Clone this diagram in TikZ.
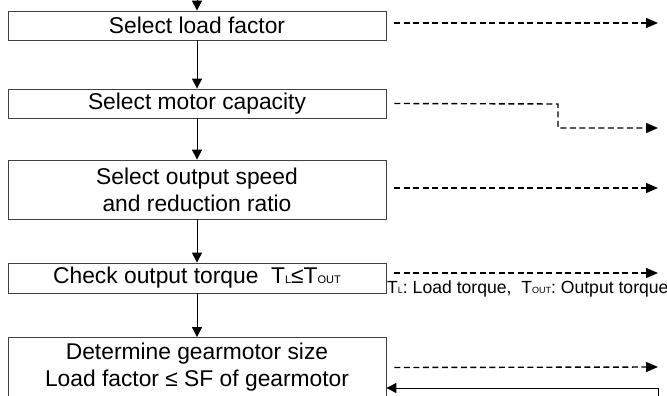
\documentclass[tikz,border=0pt]{standalone}
\usepackage{fontspec}
\setmainfont{Liberation Sans}
\usetikzlibrary{arrows.meta}
\newcommand{\sub}[1]{{\fontsize{11}{11}\selectfont #1}}
\newcommand{\subn}[1]{{\fontsize{9}{9}\selectfont #1}}

\begin{document}
\begin{tikzpicture}[x=1pt,y=-1pt,
		box/.style={draw=black!75, line width=0.8pt, minimum width=378pt, inner sep=0pt, align=center,
			font=\fontsize{22.8}{27}\selectfont},
		flow/.style={line width=1pt, -{Triangle[length=10pt,width=10pt]}},
		dasharrow/.style={line width=1.4pt, dash pattern=on 6pt off 3.5pt, -{Triangle[length=12pt,width=10pt]}}]
			\clip (0,0) rectangle (667,396);
			\node[box, minimum height=29pt] (load) at (197,25.5) {Select load factor};
			\node[box, minimum height=29pt] (motor) at (197,103.5) {Select motor capacity};
			\node[box, minimum height=59pt] (speed) at (197,189.5) {Select output speed\\and reduction ratio};
			\node[box, minimum height=30pt] (torque) at (197,278) {Check output torque\ \ T\sub{L}≤T\sub{OUT}};
			\node[box, minimum height=60pt] (size) at (197,367.5) {Determine gearmotor size\\Load factor ≤ SF of gearmotor};
			\node[anchor=base west, inner sep=0pt, font=\fontsize{17.6}{17.6}\selectfont] (note) at (387,293)
				{T\subn{L}: Load torque,\ \ T\subn{OUT}: Output torque};
			\coordinate (start) at (197,0);
			\coordinate (o1) at (658,23);
			\coordinate (knee) at (558,104);
			\coordinate (o2) at (658,128);
			\coordinate (o3) at (658,188);
			\coordinate (o4) at (658,273);
			\coordinate (o5) at (658,367);
			\coordinate (ret) at (658,400);
			% main flow
			\draw[flow] (start) -- (load);
			\draw[flow] (load) -- (motor);
			\draw[flow] (motor) -- (speed);
			\draw[flow] (speed) -- (torque);
			\draw[flow] (torque) -- (size);
			% side outputs
			\draw[dasharrow] ([xshift=8pt,yshift=2.5pt]load.east) -- (o1);
			\draw[dasharrow] ([xshift=8pt]motor.east) -- (knee) |- (o2);
			\draw[dasharrow] ([xshift=8pt,yshift=1.5pt]speed.east) -- (o3);
			\draw[dasharrow] ([xshift=8pt,yshift=5pt]torque.east) -- (o4);
			\draw[dasharrow] ([xshift=8pt]size.east) -- (o5);
			\draw[flow] (ret) |- ([yshift=-20.5pt]size.east);
		\end{tikzpicture}
\end{document}
